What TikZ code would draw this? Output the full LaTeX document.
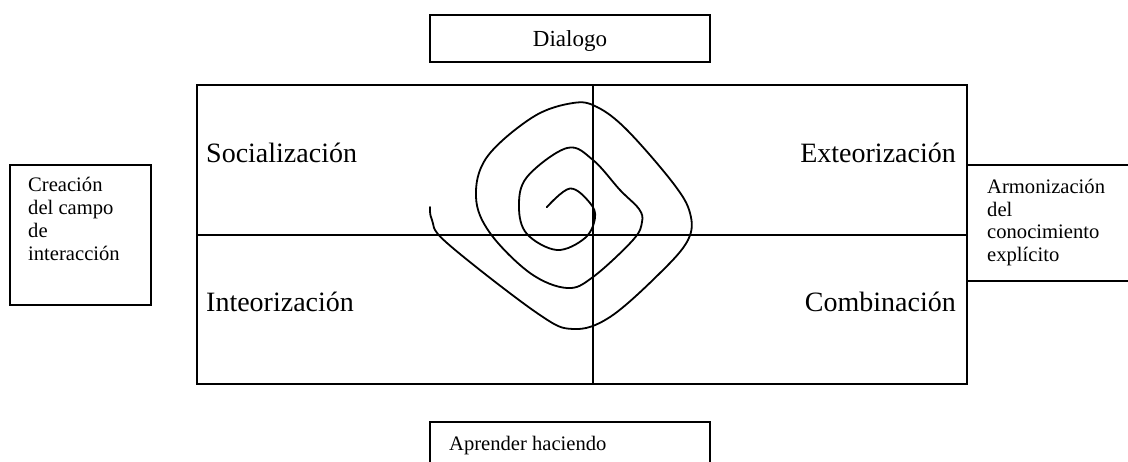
\documentclass[tikz,border=0pt]{standalone}
\usepackage{fontspec}
\setmainfont{Liberation Serif}
\begin{document}
\begin{tikzpicture}[x=1pt,y=-1pt,
  frame/.style={draw=black,line width=2pt},
  big/.style={font=\fontsize{28}{30}\selectfont,inner sep=0pt},
  small/.style={font=\fontsize{20.6}{22.8}\selectfont,inner sep=0pt,align=left},
  mid/.style={font=\fontsize{23}{25}\selectfont,inner sep=0pt}]
\clip (0,0) rectangle (1128,461);
\fill[white] (0,0) rectangle (1128,461);
% boxes
\node[frame,minimum width=280pt,minimum height=47pt,anchor=north west,inner sep=0pt] (dbox) at (429,13.5) {};
\node[mid,anchor=base] (dlg) at (570,46.7) {Dialogo};
\node[frame,minimum width=280pt,minimum height=60pt,anchor=north west,inner sep=0pt] (abox) at (429,421) {};
\node[small,anchor=base west] (apr) at (449,450) {Aprender haciendo};
\node[frame,minimum width=141pt,minimum height=140pt,anchor=north west,inner sep=0pt] (lbox) at (9,163.5) {};
\node[small,anchor=base west] (crea) at (28,260) {Creación\\del campo\\de\\interacción};
\node[frame,minimum width=200pt,minimum height=116pt,anchor=north west,inner sep=0pt] (rbox) at (966,164) {};
\node[small,anchor=base west] (arm) at (987,261.7) {Armonización\\del\\conocimiento\\explícito};
% main frame
\node[frame,minimum width=770pt,minimum height=299pt,anchor=north west,inner sep=0pt] (main) at (196,84) {};
\draw[frame] (main.north west -| 593,0) -- (main.south west -| 593,0);
\draw[frame] (main.north west |- 0,235) -- (main.north east |- 0,235);
% labels
\node[big,anchor=base west] (soc) at (206,162) {Socialización};
\node[big,anchor=base east] (ext) at (956,162) {Exteorización};
\node[big,anchor=base west] (inte) at (206,311.7) {Inteorización};
\node[big,anchor=base east] (comb) at (956,311.7) {Combinación};
% spiral
\draw[line width=1.8pt,line cap=round] plot[smooth,tension=0.6] coordinates {
 (546.7,207.3) (570,188.5) (590,203) (595,218) (585,238) (557,250) (527,234)
 (519,207) (527,177) (567,148) (593,160) (620,190) (639,209) (642,222)
 (633,240) (593,277) (567,288) (530,273) (490,233) (476,197) (487,157)
 (533,117) (573,103) (597,107) (627,130) (673,183) (690,213) (688,240)
 (660,273) (610,317) (573,329) (537,313) (447,243) (432,220) (430,207)};
\end{tikzpicture}
\end{document}
